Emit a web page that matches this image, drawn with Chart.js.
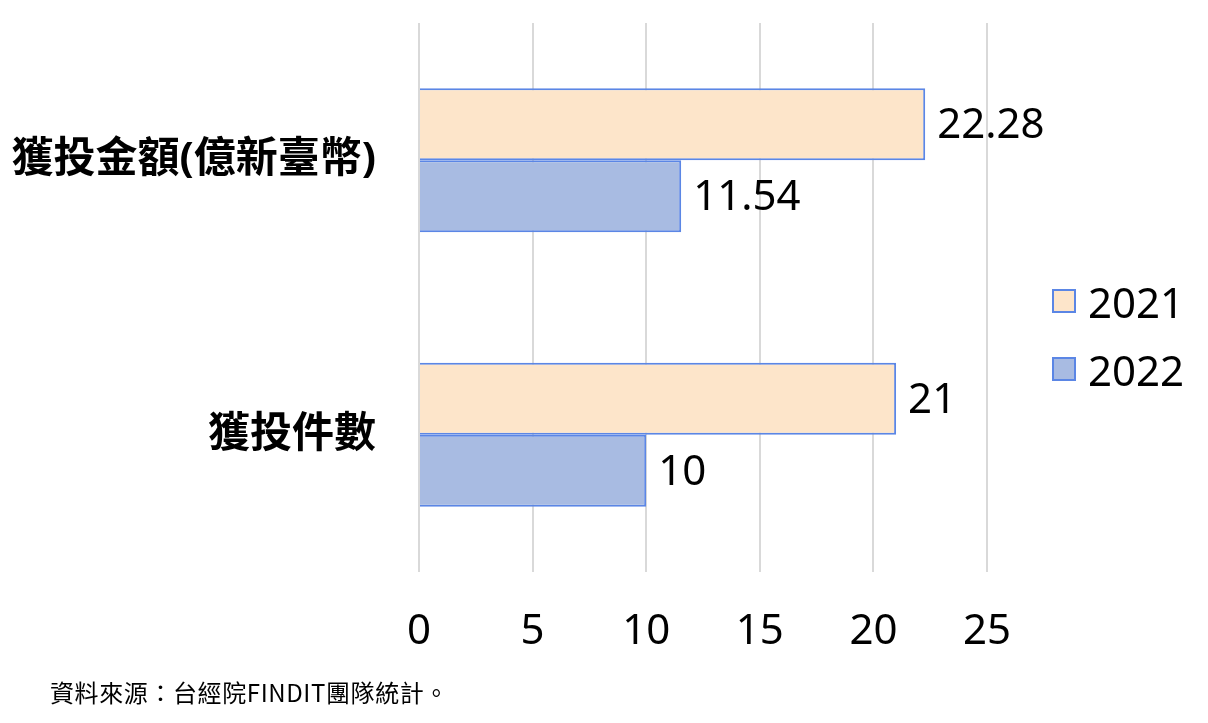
<!DOCTYPE html>
<html lang="zh-Hant">
<head>
<meta charset="utf-8">
<title>獲投金額與件數</title>
<script src="https://cdn.jsdelivr.net/npm/chart.js@4.4.1/dist/chart.umd.min.js"></script>
<style>
  html, body { margin: 0; padding: 0; background: #fff; }
  #wrap { position: relative; width: 1208px; height: 723px; }
  #legend { position: absolute; left: 1052px; top: 267px; font-family: 'Noto Sans', 'Noto Sans CJK TC', sans-serif; font-size: 42px; color: #000; }
  #legend .item { display: flex; align-items: center; height: 68px; }
  #legend .box { width: 20px; height: 20px; border: 2px solid #5B86E5; margin-right: 12px; }
  #source { position: absolute; left: 50px; top: 674px; font-family: 'Noto Sans CJK TC', sans-serif; font-size: 24px; letter-spacing: 0.6px; color: #000; }
</style>
</head>
<body>
<div id="wrap">
  <canvas id="myChart" width="1208" height="723"></canvas>
  <div id="legend"></div>
  <div id="source">資料來源：台經院FINDIT團隊統計。</div>
</div>
<script>
// 資料
const categories = ['獲投金額(億新臺幣)', '獲投件數'];
const seriesNames = ['2021', '2022'];
const values2021 = [22.28, 21];
const values2022 = [11.54, 10];
const valueLabels2021 = ['22.28', '21'];
const valueLabels2022 = ['11.54', '10'];
const xTicks = [0, 5, 10, 15, 20, 25];

const fontFamily = "'Noto Sans', 'Noto Sans CJK TC', sans-serif";
const borderBlue = '#5B86E5';

// 數值標籤
const valueLabelPlugin = {
  id: 'valueLabels',
  afterDatasetsDraw(chart) {
    const ctx = chart.ctx;
    ctx.save();
    ctx.font = '42px ' + fontFamily;
    ctx.fillStyle = '#000';
    ctx.textAlign = 'left';
    ctx.textBaseline = 'middle';
    chart.data.datasets.forEach((ds, i) => {
      const meta = chart.getDatasetMeta(i);
      meta.data.forEach((bar, j) => {
        ctx.fillText(ds.valueLabels[j], bar.x + 12, bar.y + 2);
      });
    });
    ctx.restore();
  }
};

const ctx = document.getElementById('myChart').getContext('2d');

const myChart = new Chart(ctx, {
  type: 'bar',
  data: {
    labels: categories,
    datasets: [{
      label: seriesNames[0],
      data: values2021,
      valueLabels: valueLabels2021,
      backgroundColor: '#FDE5CA',
      borderColor: borderBlue,
      borderWidth: 2
    }, {
      label: seriesNames[1],
      data: values2022,
      valueLabels: valueLabels2022,
      backgroundColor: '#A8BBE2',
      borderColor: borderBlue,
      borderWidth: 2
    }]
  },
  options: {
    indexAxis: 'y',
    responsive: false,
    animation: false,
    categoryPercentage: 0.525,
    barPercentage: 1,
    layout: { padding: { top: 23, left: 0, right: 221, bottom: 0 } },
    plugins: {
      legend: { display: false },
      tooltip: { enabled: false }
    },
    scales: {
      x: {
        min: 0,
        max: 25,
        afterBuildTicks(scale) {
          scale.ticks = xTicks.map(v => ({ value: v }));
        },
        afterFit(scale) { scale.height = 151; },
        grid: { color: '#D9D9D9', lineWidth: 2, drawTicks: false },
        border: { display: false },
        ticks: {
          padding: 35,
          color: '#000',
          font: { family: fontFamily, size: 42 }
        }
      },
      y: {
        afterFit(scale) {
          scale.width = 419;
          scale.paddingTop = 0;
          scale.paddingBottom = 0;
        },
        grid: { display: false, drawTicks: false },
        border: { display: false },
        ticks: {
          padding: 43,
          color: '#000',
          font: { family: fontFamily, size: 42, weight: 'bold' }
        }
      }
    }
  },
  plugins: [valueLabelPlugin]
});

// 圖例
const legendEl = document.getElementById('legend');
myChart.data.datasets.forEach(ds => {
  const item = document.createElement('div');
  item.className = 'item';
  const box = document.createElement('span');
  box.className = 'box';
  box.style.background = ds.backgroundColor;
  const text = document.createElement('span');
  text.textContent = ds.label;
  item.appendChild(box);
  item.appendChild(text);
  legendEl.appendChild(item);
});
</script>
</body>
</html>
